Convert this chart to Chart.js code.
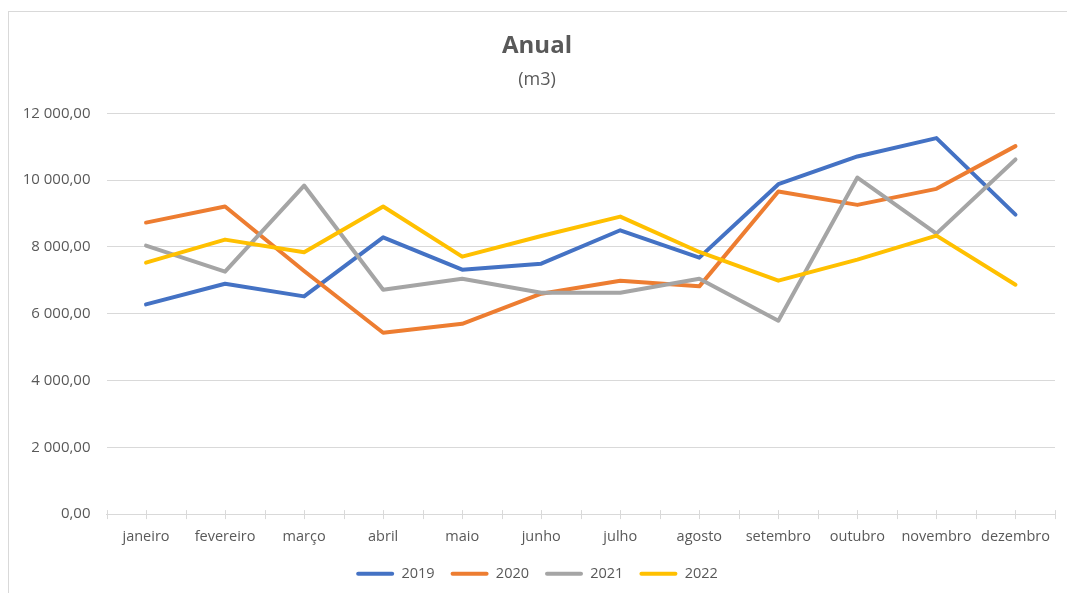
<!DOCTYPE html>
<html lang="pt">
<head>
    <meta charset="UTF-8">
    <title>Anual</title>
    <script src="https://cdn.jsdelivr.net/npm/chart.js"></script>
    <style>
        html, body {
            margin: 0;
            width: 1067px;
            height: 593px;
            overflow: hidden;
            background: #ffffff;
        }
        .frame {
            position: absolute;
            left: 8px;
            top: 11px;
            width: 1067px;
            height: 590px;
            border-left: 1px solid #d9d9d9;
            border-top: 1px solid #d9d9d9;
        }
    </style>
</head>
<body>
    <div class="frame">
        <canvas id="anualChart" width="1067" height="582"></canvas>
    </div>

    <script>
        // dados (m3)
        const months = ['janeiro', 'fevereiro', 'março', 'abril', 'maio', 'junho',
            'julho', 'agosto', 'setembro', 'outubro', 'novembro', 'dezembro'];
        const years = ['2019', '2020', '2021', '2022'];
        const v2019 = [6280, 6900, 6520, 8290, 7320, 7500, 8500, 7680, 9880, 10710, 11260, 8970];
        const v2020 = [8730, 9210, 7280, 5430, 5700, 6600, 6990, 6820, 9660, 9260, 9740, 11020];
        const v2021 = [8040, 7260, 9840, 6720, 7050, 6630, 6630, 7050, 5790, 10080, 8400, 10620];
        const v2022 = [7530, 8220, 7840, 9210, 7710, 8330, 8910, 7850, 6990, 7620, 8340, 6870];
        const colors = ['#4472c4', '#ed7d31', '#a5a5a5', '#ffc000'];

        const textColor = '#595959';
        const fontFamily = '"Open Sans", sans-serif';

        function fmt(v) {
            const parts = Number(v).toFixed(2).split('.');
            return parts[0].replace(/\B(?=(\d{3})+(?!\d))/g, ' ') + ',' + parts[1];
        }

        function makeSet(i, values) {
            return {
                label: years[i],
                data: values,
                borderColor: colors[i],
                backgroundColor: colors[i],
                borderWidth: 4,
                borderJoinStyle: 'round',
                borderCapStyle: 'round',
                pointRadius: 0,
                tension: 0,
                fill: false,
                order: 3 - i   // 2022 por cima
            };
        }

        // marcas pequenas no eixo x (centros e limites das categorias)
        const xTickMarks = {
            id: 'xTickMarks',
            beforeDatasetsDraw(chart) {
                const sx = chart.scales.x;
                const y = chart.chartArea.bottom;
                const ctx = chart.ctx;
                const n = months.length;
                const xs = [sx.left, sx.right];
                for (let i = 0; i < n; i++) {
                    xs.push(sx.getPixelForValue(i));
                    if (i < n - 1) xs.push((sx.getPixelForValue(i) + sx.getPixelForValue(i + 1)) / 2);
                }
                ctx.save();
                ctx.strokeStyle = '#d9d9d9';
                ctx.lineWidth = 1;
                ctx.beginPath();
                xs.forEach(x => {
                    const px = Math.round(x) + 0.5;
                    ctx.moveTo(px, y - 4);
                    ctx.lineTo(px, y + 5);
                });
                ctx.stroke();
                ctx.restore();
            }
        };

        new Chart(document.getElementById('anualChart').getContext('2d'), {
            type: 'line',
            data: {
                labels: months,
                datasets: [
                    makeSet(0, v2019),
                    makeSet(1, v2020),
                    makeSet(2, v2021),
                    makeSet(3, v2022)
                ]
            },
            plugins: [xTickMarks],
            options: {
                responsive: false,
                animation: false,
                layout: { padding: { left: 10, right: 21, top: 0, bottom: 3 } },
                plugins: {
                    tooltip: { enabled: false },
                    title: {
                        display: true,
                        text: 'Anual',
                        color: textColor,
                        font: { family: fontFamily, size: 24, weight: 'bold' },
                        padding: { top: 20, bottom: 8 }
                    },
                    subtitle: {
                        display: true,
                        text: '(m3)',
                        color: textColor,
                        font: { family: fontFamily, size: 18 },
                        padding: { top: 0, bottom: 23 }
                    },
                    legend: {
                        position: 'bottom',
                        labels: {
                            color: textColor,
                            font: { family: fontFamily, size: 14.5 },
                            boxWidth: 38,
                            boxHeight: 4,
                            padding: 16,
                            useBorderRadius: true,
                            borderRadius: 2,
                            sort: (a, b) => a.datasetIndex - b.datasetIndex,
                            generateLabels(chart) {
                                const items = Chart.defaults.plugins.legend.labels.generateLabels(chart);
                                items.forEach(it => {
                                    it.lineWidth = 0;
                                    it.strokeStyle = 'transparent';
                                });
                                return items;
                            }
                        }
                    }
                },
                scales: {
                    x: {
                        offset: true,
                        grid: { drawOnChartArea: false, drawTicks: false, offset: true },
                        border: { color: '#d9d9d9', width: 1 },
                        afterFit(scale) { scale.height = scale.height - 9; },
                        ticks: {
                            color: textColor,
                            font: { family: fontFamily, size: 14.5 },
                            padding: 14,
                            maxRotation: 0,
                            autoSkip: false
                        }
                    },
                    y: {
                        min: 0,
                        max: 12000,
                        grid: { color: '#d9d9d9', drawTicks: false },
                        border: { display: false },
                        afterFit(scale) { scale.width = 87.5; },
                        ticks: {
                            stepSize: 2000,
                            color: textColor,
                            font: { family: fontFamily, size: 15 },
                            padding: 16,
                            callback: v => fmt(v)
                        }
                    }
                }
            }
        });
    </script>
</body>
</html>
